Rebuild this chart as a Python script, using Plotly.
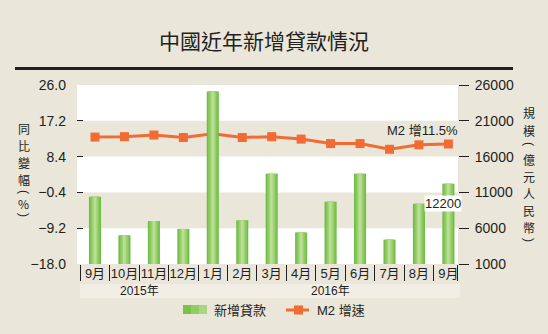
import plotly.graph_objects as go

# ---- data ----
months = ["9月", "10月", "11月", "12月", "1月", "2月", "3月", "4月", "5月", "6月", "7月", "8月", "9月"]
year_labels = ["2015年", "2016年"]
year_counts = [4, 9]
loans = [10400, 5000, 7000, 5900, 25100, 7100, 13600, 5400, 9700, 13600, 4400, 9400, 12200]  # 億元人民幣
m2 = [13.2, 13.3, 13.7, 13.1, 14.0, 13.1, 13.3, 12.7, 11.6, 11.6, 10.2, 11.3, 11.5]  # %
left_ticks = [-18.0, -9.2, -0.4, 8.4, 17.2, 26.0]
right_ticks = [1000, 6000, 11000, 16000, 21000, 26000]
title = "中國近年新增貸款情況"
left_title = ["同", "比", "變", "幅", "(", "%", ")"]
right_title = ["規", "模", "(", "億", "元", "人", "民", "幣", ")"]
legend_bar = "新增貸款"
legend_line = "M2 增速"

W, H = 548, 334
L, R, T, B = 77, 458, 85, 264
INK = "#231f20"
BG = "#ebe6da"
ORANGE = "#f26b32"
FONT = "Liberation Sans, Noto Sans CJK TC"
CJK = "Noto Sans CJK TC"

def px(x):
    return (x - L) / (R - L)

def py(y):
    return (B - y) / (B - T)

xs = list(range(len(months)))
fig = go.Figure()

# M2 line (base axis, drawn under bars)
fig.add_trace(go.Scatter(x=xs, y=m2, mode="lines+markers", yaxis="y",
                         line=dict(color=ORANGE, width=3),
                         marker=dict(symbol="square", size=9, color=ORANGE),
                         showlegend=False))

# bars with pseudo gradient
for w, c in [(0.41, "#6fbd45"), (0.32, "#85c75a"), (0.22, "#9bd06f"), (0.12, "#afd987"), (0.05, "#bade95")]:
    fig.add_trace(go.Bar(x=xs, y=loans, yaxis="y2", width=w, marker=dict(color=c, line=dict(width=0)),
                         showlegend=False, hoverinfo="skip"))

shapes = []
# beige bands
for y0, y1 in [(left_ticks[1], left_ticks[2]), (left_ticks[3], left_ticks[4])]:
    shapes.append(dict(type="rect", xref="paper", yref="y", x0=0, x1=1, y0=y0, y1=y1,
                       fillcolor=BG, line=dict(width=0), layer="below"))
# title rule
shapes.append(dict(type="rect", xref="paper", yref="paper", x0=px(15), x1=px(513), y0=py(70), y1=py(67),
                   fillcolor=INK, line=dict(width=0)))
# year band
shapes.append(dict(type="rect", xref="paper", yref="paper", x0=px(80), x1=px(460), y0=py(298), y1=py(284),
                   fillcolor="#f2eee5", line=dict(width=0), layer="below"))
# legend swatches
for (x0, x1, c) in [(183, 191, "#78c14a"), (191, 199, "#92cc67"), (199, 207, "#a9d683")]:
    shapes.append(dict(type="rect", xref="paper", yref="paper", x0=px(x0), x1=px(x1), y0=py(314), y1=py(305),
                       fillcolor=c, line=dict(width=0)))
shapes.append(dict(type="line", xref="paper", yref="paper", x0=px(286), x1=px(309), y0=py(310), y1=py(310),
                   line=dict(color=ORANGE, width=3)))
shapes.append(dict(type="rect", xref="paper", yref="paper", x0=px(294), x1=px(303), y0=py(314.5), y1=py(305.5),
                   fillcolor=ORANGE, line=dict(width=0)))

annotations = []
# vertical axis titles (one character per row, parentheses turned)
def vchar(ch, xx, yy):
    rot = 90 if ch in "()" else 0
    return dict(text=ch, xref="paper", yref="paper", x=px(xx), y=py(yy), showarrow=False,
                xanchor="center", yanchor="middle", textangle=rot, borderpad=0,
                font=dict(family=CJK if rot == 0 else FONT, size=12, color=INK))

for ch, yy in zip(left_title, [128, 145, 162, 179, 192, 203, 215]):
    annotations.append(vchar(ch, 24, yy))
for ch, yy in zip(right_title, [113, 130, 144, 159, 176, 193, 210, 227, 240]):
    annotations.append(vchar(ch, 529, yy))
# year labels
start = 0
for lab, n in zip(year_labels, year_counts):
    annotations.append(dict(text=lab, xref="x", yref="paper", x=start + (n - 1) / 2, y=py(291), showarrow=False,
                            xanchor="center", yanchor="middle", font=dict(family=FONT, size=12, color=INK)))
    start += n
# value labels
annotations.append(dict(text=f"M2 增{m2[-1]}%", xref="x", yref="y", x=xs[-1], y=m2[-1], xshift=12, yshift=13,
                        xanchor="right", yanchor="middle", showarrow=False, font=dict(family=FONT, size=13, color=INK)))
annotations.append(dict(text=f"{loans[-1]}", xref="x", yref="y2", x=xs[-1], y=loans[-1], xshift=-5, yshift=-20,
                        xanchor="center", yanchor="middle", showarrow=False, bgcolor="white", borderpad=0,
                        font=dict(family=FONT, size=13, color=INK)))
# legend texts
annotations.append(dict(text=legend_bar, xref="paper", yref="paper", x=px(212), y=py(310), showarrow=False,
                        xanchor="left", yanchor="middle", font=dict(family=FONT, size=13, color=INK)))
annotations.append(dict(text=legend_line, xref="paper", yref="paper", x=px(315), y=py(310), showarrow=False,
                        xanchor="left", yanchor="middle", font=dict(family=FONT, size=13, color=INK)))

xr0 = -0.611
xr1 = 12.326
fig.update_layout(
    width=W, height=H, autosize=False,
    margin=dict(l=L, r=W - R, t=T, b=H - B, pad=0),
    paper_bgcolor=BG, plot_bgcolor="white",
    barmode="overlay", showlegend=False,
    title=dict(text=title, x=264 / W, xanchor="center", y=1 - 42 / H, yanchor="middle",
               font=dict(family=CJK, size=21, color=INK)),
    xaxis=dict(range=[xr0, xr1], tickmode="array", tickvals=xs, ticktext=months,
               ticks="", showgrid=False, zeroline=False, showline=False,
               tickfont=dict(family=FONT, size=13, color=INK), ticklabelstandoff=0,
               minor=dict(tickmode="array", tickvals=[i - 0.5 for i in xs] + [12.31], ticks="outside",
                          ticklen=16, tickcolor=INK, tickwidth=1, showgrid=False)),
    yaxis=dict(range=[left_ticks[0], left_ticks[-1]], tickmode="array", tickvals=left_ticks,
               ticktext=[f"{v:.1f}".replace("-", "−") for v in left_ticks],
               ticks="inside", ticklen=6, tickcolor=INK, tickwidth=1, showgrid=False, zeroline=False,
               showline=False, tickfont=dict(family=FONT, size=14, color=INK), ticklabelstandoff=10),
    yaxis2=dict(range=[right_ticks[0], right_ticks[-1]], tickmode="array", tickvals=right_ticks,
                ticktext=[str(v) for v in right_ticks],
                overlaying="y", side="right", ticks="outside", ticklen=10, tickcolor=INK, tickwidth=1,
                showgrid=False, zeroline=False, showline=False,
                tickfont=dict(family=FONT, size=14, color=INK), ticklabelstandoff=3),
    shapes=shapes, annotations=annotations,
)

fig.write_html("out.html")
